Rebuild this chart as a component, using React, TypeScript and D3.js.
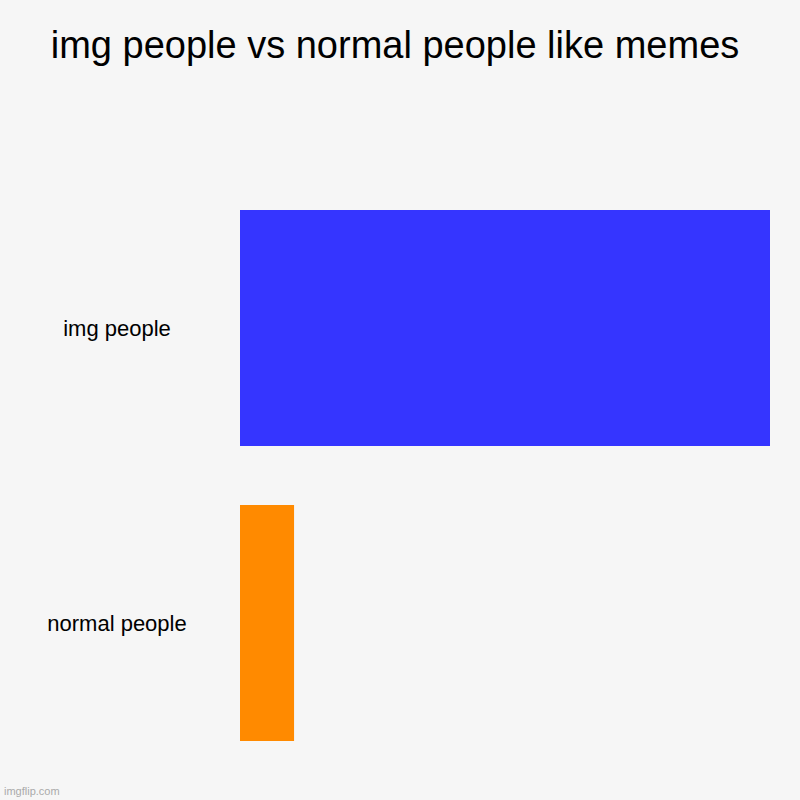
import React from "react";
import { scaleBand, scaleLinear } from "d3";

const categories = ["img people", "normal people"];
const values = [100, 10.2];
const colors = ["#3535ff", "#ff8a00"];
const title = "img people vs normal people like memes";

function App() {
  const width = 800;
  const height = 800;

  const yScale = scaleBand<string>()
    .domain(categories)
    .range([180.5, 770.5])
    .paddingInner(0.2)
    .paddingOuter(0.1);

  const xScale = scaleLinear().domain([0, 100]).range([240, 770]);

  return (
    <div style={{ position: "fixed", top: 0, left: 0 }}>
      <svg width={width} height={height} style={{ display: "block" }}>
        <rect width={width} height={height} fill="#f6f6f6" />
        <text
          x={395}
          y={58}
          textAnchor="middle"
          fontFamily="'Liberation Sans', Arial, sans-serif"
          fontSize={38}
          fill="#000"
        >
          {title}
        </text>
        {categories.map((c, i) => (
          <g key={c}>
            <rect
              x={xScale(0)}
              y={yScale(c)}
              width={xScale(values[i]) - xScale(0)}
              height={yScale.bandwidth()}
              fill={colors[i]}
            />
            <text
              x={117}
              y={(yScale(c) ?? 0) + yScale.bandwidth() / 2}
              dy="0.37em"
              textAnchor="middle"
              fontFamily="'Liberation Sans', Arial, sans-serif"
              fontSize={22}
              fill="#000"
            >
              {c}
            </text>
          </g>
        ))}
        <text
          x={4}
          y={795}
          fontFamily="'Liberation Sans', Arial, sans-serif"
          fontSize={11}
          fill="#aaaaaa"
        >
          imgflip.com
        </text>
      </svg>
    </div>
  );
}

export default App;
